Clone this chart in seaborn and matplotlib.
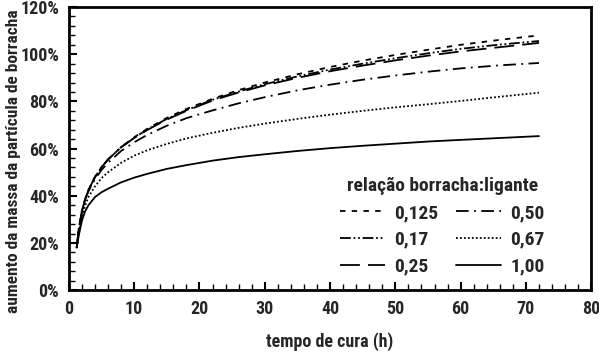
import numpy as np
import pandas as pd
import matplotlib
matplotlib.use('Agg')
import matplotlib.pyplot as plt
from matplotlib import font_manager
from matplotlib.ticker import MultipleLocator, FuncFormatter
import seaborn as sns

# tempo de cura (h)
tempo = [1.2, 1.5, 2, 2.5, 3, 4, 5, 6, 8, 10, 12, 15, 18, 22, 26, 30,
         35, 40, 45, 50, 55, 60, 66, 72]

# aumento da massa (%) per relação borracha:ligante
r0125 = [18, 25.8, 33.6, 38.6, 42.4, 48, 52.1, 55.4, 60.6, 64.8, 68.4, 73, 76.8,
         81.1, 84.8, 88, 91.5, 94.6, 97.3, 99.7, 101.9, 104, 106.1, 108]
r017 = [18, 25.8, 33.6, 38.6, 42.4, 48, 52.1, 55.4, 60.6, 64.6, 68.1, 72.6, 76.3,
        80.7, 84.2, 87.3, 90.6, 93.5, 96, 98.3, 100.4, 102.3, 104.1, 105.6]
r025 = [18, 25.8, 33.6, 38.6, 42.4, 48, 52.1, 55.4, 60.6, 64.5, 67.9, 72.3, 76,
        80.4, 83.8, 86.8, 90, 92.8, 95.2, 97.4, 99.4, 101.2, 103, 104.8]
r050 = [18, 25, 33, 38.5, 42, 47, 51, 54, 59, 62.7, 65.8, 69.7, 72.9, 76.2, 79.2,
        81.8, 84.7, 87.1, 89.2, 91, 92.6, 94, 95.3, 96.3]
r067 = [18, 24, 31, 36, 39.5, 44, 47.5, 50, 54, 57, 59.3, 62, 64.3, 66.7,
        68.8, 70.6, 72.6, 74.4, 76, 77.5, 78.8, 80.2, 82, 83.7]
r100 = [18, 23, 29.5, 33.5, 36, 39.5, 41.5, 43, 45.7, 47.7, 49.3, 51.4, 53,
        54.9, 56.4, 57.6, 59, 60.2, 61.2, 62.1, 63, 63.7, 64.5, 65.3]

labels = ['0,125', '0,17', '0,25', '0,50', '0,67', '1,00']
series = [r0125, r017, r025, r050, r067, r100]
styles = [(0, (3, 3.5)), (0, (6, 1.5, 1, 1.5, 1, 1.5)), (0, (11, 4.5)),
          (0, (7, 3, 1, 3)), (0, (1, 1.2)), '-']

# narrow bold font if there is one, else Arial-like
names = {f.name for f in font_manager.fontManager.ttflist}
narrow = [n for n in ['Liberation Sans Narrow', 'Roboto Condensed',
                      'Open Sans Condensed', 'DejaVu Sans Condensed'] if n in names]
if narrow:
    fam, fs, fs_y, fs_leg = narrow[0], 13, 12.5, 14
else:
    fam, fs, fs_y, fs_leg = 'Liberation Sans', 11, 10.5, 11.5

sns.set_theme(style='white')
plt.rcParams['font.family'] = [fam, 'DejaVu Sans']
plt.rcParams['font.weight'] = 'bold'

fig = plt.figure(figsize=(5.99, 3.53), dpi=100)
ax = fig.add_axes([0.115, 0.178, 0.872, 0.802])

for lab, vals, ls in zip(labels, series, styles):
    df = pd.DataFrame({'t': tempo, 'v': vals})
    sns.lineplot(data=df, x='t', y='v', ax=ax, color='black', linewidth=1.3,
                 linestyle=ls, label=lab)

ax.set_xlim(0, 80)
ax.set_ylim(0, 120)
ax.xaxis.set_major_locator(MultipleLocator(10))
ax.xaxis.set_minor_locator(MultipleLocator(2))
ax.yaxis.set_major_locator(MultipleLocator(20))
ax.yaxis.set_minor_locator(MultipleLocator(4))
ax.yaxis.set_major_formatter(FuncFormatter(lambda v, p: f'{v:.0f}%'))

ax.tick_params(which='both', direction='in', bottom=True, left=True,
               top=False, right=False, color='black')
ax.tick_params(which='major', length=6, width=1.5, labelsize=fs, pad=7)
ax.tick_params(which='minor', length=4, width=1)
for lbl in ax.get_xticklabels() + ax.get_yticklabels():
    lbl.set_fontweight('bold')
for sp in ax.spines.values():
    sp.set_color('black')
    sp.set_linewidth(2)

ax.set_xlabel('tempo de cura (h)', fontsize=fs, fontweight='bold', labelpad=10)
ax.set_ylabel('aumento da massa da partícula de borracha', fontsize=fs_y,
              fontweight='bold')
ax.yaxis.set_label_coords(-0.092, 0.455)

leg = ax.legend(ncol=2, title='relação borracha:ligante', frameon=False,
                loc='lower right', bbox_to_anchor=(0.945, -0.01),
                fontsize=fs_leg, title_fontsize=fs_leg, handlelength=2.3,
                columnspacing=0.9, handletextpad=0.5, labelspacing=0.45)
leg.get_title().set_fontweight('bold')
for t in leg.get_texts():
    t.set_fontweight('bold')

fig.savefig('out.png', dpi=100)
